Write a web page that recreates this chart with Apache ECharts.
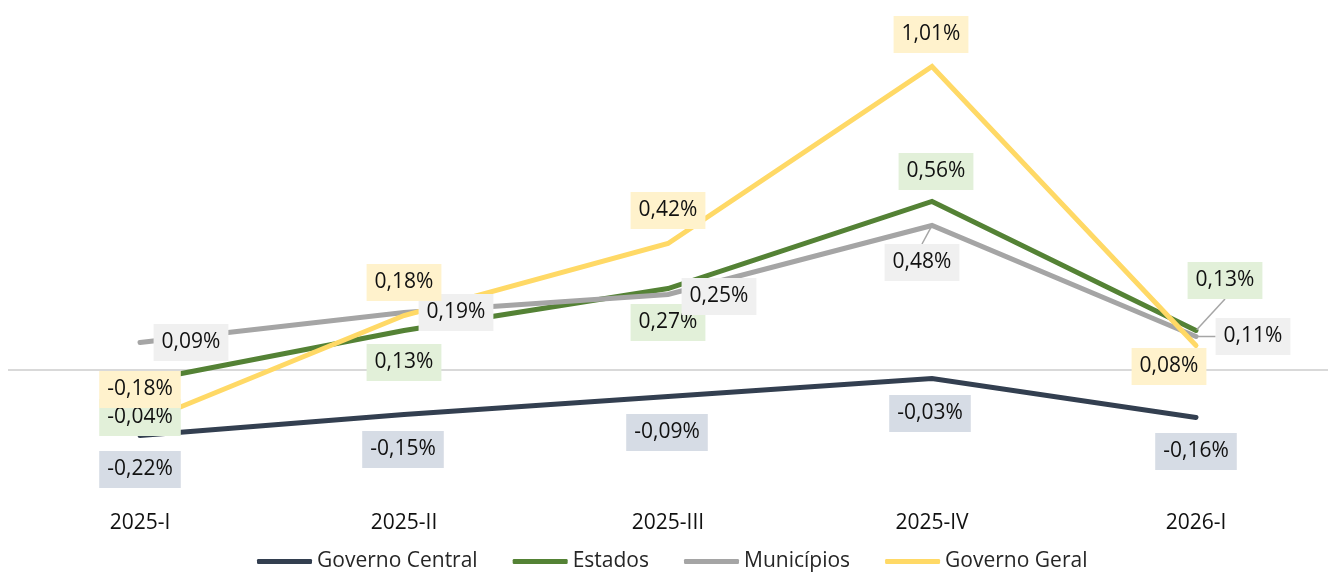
<!DOCTYPE html>
<html>
<head>
<meta charset="utf-8">
<script src="https://cdn.jsdelivr.net/npm/echarts@6/dist/echarts.min.js"></script>
<style>html,body{margin:0;padding:0;background:#fff}#c{width:1328px;height:574px}</style>
</head>
<body>
<div id="c"></div>
<script>
// ---- data ----
const categories = ['2025-I', '2025-II', '2025-III', '2025-IV', '2026-I'];
const seriesNames = ['Governo Central', 'Estados', 'Municípios', 'Governo Geral'];
const governoCentral = [-0.22, -0.15, -0.09, -0.03, -0.16];
const estados = [-0.04, 0.13, 0.27, 0.56, 0.13];
const municipios = [0.09, 0.19, 0.25, 0.48, 0.11];
const governoGeral = [-0.18, 0.18, 0.42, 1.01, 0.08];

// ---- styles ----
const lineColors = ['#333f50', '#548235', '#a5a5a5', '#ffd966'];
const labelBg = ['#d6dce5', '#e2f0d9', '#f0f0f0', '#fff2cc'];
// label offsets (px) from each point, per series
const labelOffsets = [
  [[0, 34], [-1, 35], [-1, 36], [-2, 35], [0, 34]],
  [[0, 36], [0, 32], [0, 34], [4, -30], [29, -50]],
  [[51, 0], [52, 0], [51, 2], [-10, 37], [57, 0]],
  [[0, -34], [0, -33], [0, -33], [-1, -32], [-27, 21]]
];
const leaderLines = [
  [false, false, false, false, false],
  [false, false, false, false, true],
  [false, false, false, true, true],
  [false, false, false, false, false]
];

const allValues = [governoCentral, estados, municipios, governoGeral];
const FONT = '"Open Sans", sans-serif';

const fmt = v => v.toFixed(2).replace('.', ',') + '%';

const series = [];
allValues.forEach((vals, i) => {
  const s = {
    name: seriesNames[i],
    type: 'line',
    data: vals,
    color: lineColors[i],
    showSymbol: false,
    symbol: 'none',
    lineStyle: { color: lineColors[i], width: 5, cap: 'round', join: 'miter' },
    itemStyle: { color: lineColors[i] },
    z: 2,
    silent: true,
    emphasis: { disabled: true }
  };
  if (i === 0) {
    s.markLine = {
      silent: true,
      symbol: 'none',
      label: { show: false },
      lineStyle: { color: '#d9d9d9', width: 2, type: 'solid' },
      data: [{ yAxis: 0 }],
      z: 1
    };
  }
  series.push(s);
});
allValues.forEach((vals, i) => {
  series.push({
    name: 'lbl' + i,
    type: 'line',
    data: vals.map((v, j) => ({
      value: v,
      label: { offset: labelOffsets[i][j] },
      labelLine: { show: leaderLines[i][j] }
    })),
    showSymbol: true,
    symbol: 'circle',
    symbolSize: 2,
    itemStyle: { color: 'transparent' },
    lineStyle: { width: 0, opacity: 0 },
    z: 10,
    silent: true,
    emphasis: { disabled: true },
    label: {
      show: true,
      position: 'inside',
      formatter: p => fmt(p.value),
      fontFamily: FONT,
      fontSize: 21,
      lineHeight: 22,
      color: '#111',
      backgroundColor: labelBg[i],
      padding: [8, 8, 7, 8],
      align: 'center',
      verticalAlign: 'middle'
    },
    labelLine: {
      show: false,
      length2: 0,
      lineStyle: { color: '#a6a6a6', width: 1.5 }
    }
  });
});

const chart = echarts.init(document.getElementById('c'));
chart.setOption({
  animation: false,
  backgroundColor: '#fff',
  grid: { left: 8, right: 0, top: 10, bottom: 74, containLabel: false },
  xAxis: {
    type: 'category',
    data: categories,
    boundaryGap: true,
    axisLine: { show: false },
    axisTick: { show: false },
    splitLine: { show: false },
    axisLabel: { fontFamily: FONT, fontSize: 21, color: '#111', margin: 13 }
  },
  yAxis: {
    type: 'value',
    show: false,
    min: -0.435,
    max: 1.19833,
    splitLine: { show: false }
  },
  legend: {
    data: seriesNames,
    left: 252,
    top: 546,
    icon: 'roundRect',
    itemWidth: 55,
    itemHeight: 5,
    itemGap: 35,
    textStyle: { fontFamily: FONT, fontSize: 21, color: '#262626' }
  },
  series: series
});
</script>
</body>
</html>
